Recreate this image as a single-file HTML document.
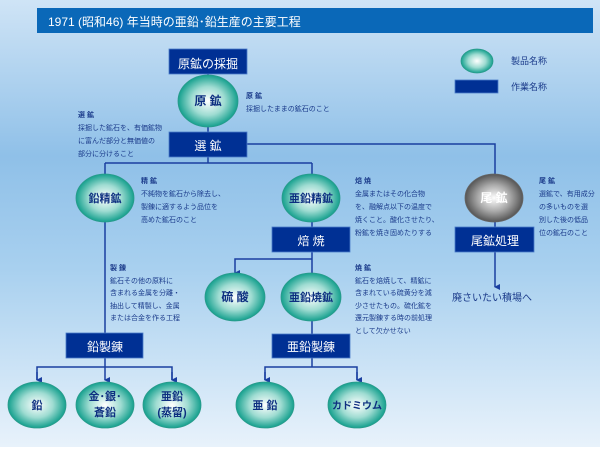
<!DOCTYPE html>
<html><head><meta charset="utf-8"><style>
html,body{margin:0;padding:0;}
body{width:600px;height:447px;overflow:hidden;font-family:"Liberation Sans","Noto Sans CJK JP",sans-serif;}
</style></head><body>
<svg width="600" height="447" viewBox="0 0 600 447" xmlns="http://www.w3.org/2000/svg" font-family="Liberation Sans, Noto Sans CJK JP, sans-serif">
<defs>
<linearGradient id="bg" x1="0" y1="0" x2="0" y2="1">
<stop offset="0" stop-color="#cfe4f6"/>
<stop offset="0.35" stop-color="#8fc0e8"/>
<stop offset="0.6" stop-color="#a8d0ef"/>
<stop offset="1" stop-color="#e8f2fb"/>
</linearGradient>
<radialGradient id="g" cx="0.5" cy="0.5" r="0.5">
<stop offset="0" stop-color="#ffffff"/>
<stop offset="0.55" stop-color="#9fdcd2"/>
<stop offset="1" stop-color="#15a08e"/>
</radialGradient>
<radialGradient id="gr" cx="0.5" cy="0.5" r="0.5">
<stop offset="0" stop-color="#ffffff"/>
<stop offset="0.55" stop-color="#aaaaaa"/>
<stop offset="1" stop-color="#555555"/>
</radialGradient>
<marker id="a" markerWidth="6" markerHeight="6" refX="3" refY="5" orient="auto" markerUnits="userSpaceOnUse">
<path d="M0,0 L6,0 L3,6 z" fill="#1a3fa0"/>
</marker>
</defs>
<rect width="600" height="447" fill="url(#bg)"/>
<rect x="37" y="8" width="556" height="25" fill="#0a68b8"/>
<text x="48" y="26" fill="#fff" font-size="12">1971 (昭和46) 年当時の亜鉛･鉛生産の主要工程</text>

<g stroke="#1a3fa0" stroke-width="1.5" fill="none">
<line x1="208" y1="74" x2="208" y2="132"/>
<polyline points="247,144 495,144 495,175"/>
<line x1="208" y1="157" x2="208" y2="163"/>
<line x1="105" y1="163" x2="312" y2="163"/>
<line x1="105" y1="163" x2="105" y2="333"/>
<line x1="312" y1="163" x2="312" y2="334"/>
<polyline points="312,259 235,259 235,273" marker-end="url(#a)"/>
<line x1="495" y1="220" x2="495" y2="227"/>
<line x1="495" y1="252" x2="495" y2="287" marker-end="url(#a)"/>
<line x1="105" y1="358" x2="105" y2="380" marker-end="url(#a)"/>
<polyline points="37,380 37,367 172,367 172,380"/>
<line x1="37" y1="372" x2="37" y2="380" marker-end="url(#a)"/>
<line x1="172" y1="372" x2="172" y2="380" marker-end="url(#a)"/>
<line x1="312" y1="358" x2="312" y2="367"/>
<polyline points="265,380 265,367 357,367 357,380"/>
<line x1="265" y1="372" x2="265" y2="380" marker-end="url(#a)"/>
<line x1="357" y1="372" x2="357" y2="380" marker-end="url(#a)"/>
</g>

<g fill="#003094" stroke="#4a7cc8" stroke-width="0.8">
<rect x="169" y="49" width="78" height="25"/>
<rect x="169" y="132" width="78" height="25"/>
<rect x="272" y="227" width="78" height="25"/>
<rect x="455" y="227" width="79" height="25"/>
<rect x="66" y="333" width="77" height="25"/>
<rect x="272" y="334" width="78" height="24"/>
<rect x="455" y="80" width="43" height="13"/>
</g>
<g fill="#fff" font-size="12" text-anchor="middle">
<text x="208" y="68">原鉱の採掘</text>
<text x="208" y="150">選 鉱</text>
<text x="311" y="245">焙 焼</text>
<text x="495" y="245">尾鉱処理</text>
<text x="105" y="351">鉛製錬</text>
<text x="311" y="351">亜鉛製錬</text>
</g>

<g stroke="#2a9a8a" stroke-width="0.8">
<ellipse cx="208" cy="101" rx="30" ry="26" fill="url(#g)"/>
<ellipse cx="105" cy="198" rx="29" ry="24" fill="url(#g)"/>
<ellipse cx="311" cy="198" rx="29" ry="24" fill="url(#g)"/>
<ellipse cx="494" cy="198" rx="29" ry="24" fill="url(#gr)" stroke="#666"/>
<ellipse cx="235" cy="297" rx="30" ry="24" fill="url(#g)"/>
<ellipse cx="311" cy="297" rx="30" ry="24" fill="url(#g)"/>
<ellipse cx="37" cy="405" rx="29" ry="23" fill="url(#g)"/>
<ellipse cx="105" cy="405" rx="29" ry="23" fill="url(#g)"/>
<ellipse cx="172" cy="405" rx="29" ry="23" fill="url(#g)"/>
<ellipse cx="265" cy="405" rx="29" ry="23" fill="url(#g)"/>
<ellipse cx="357" cy="405" rx="29" ry="23" fill="url(#g)"/>
<ellipse cx="477" cy="61" rx="16" ry="12" fill="url(#g)"/>
</g>
<g fill="#0d2f80" font-size="12" text-anchor="middle" font-weight="bold">
<text x="208" y="105">原 鉱</text>
<text x="105" y="202" font-size="11">鉛精鉱</text>
<text x="311" y="202" font-size="11">亜鉛精鉱</text>
<text x="494" y="202" fill="#fff">尾 鉱</text>
<text x="235" y="301">硫 酸</text>
<text x="311" y="301" font-size="11">亜鉛焼鉱</text>
<text x="37" y="409" font-size="11">鉛</text>
<text x="105" y="400" font-size="11">金･銀･</text>
<text x="105" y="416" font-size="11">蒼鉛</text>
<text x="172" y="400" font-size="11">亜鉛</text>
<text x="172" y="416" font-size="11">(蒸留)</text>
<text x="265" y="409" font-size="11">亜 鉛</text>
<text x="357" y="409" font-size="10">カドミウム</text>
</g>

<g fill="#1a3a8a" font-size="7">
<text x="511" y="64" font-size="9">製品名称</text>
<text x="511" y="90" font-size="9">作業名称</text>
<text x="246" y="98" font-weight="bold">原 鉱</text>
<text x="246" y="111">採掘したままの鉱石のこと</text>
<text x="78" y="117" font-weight="bold">選 鉱</text>
<text x="78" y="130">採掘した鉱石を、有価鉱物</text>
<text x="78" y="143">に富んだ部分と無価値の</text>
<text x="78" y="156">部分に分けること</text>
<text x="141" y="183" font-weight="bold">精 鉱</text>
<text x="141" y="196">不純物を鉱石から除去し、</text>
<text x="141" y="209">製錬に適するよう品位を</text>
<text x="141" y="222">高めた鉱石のこと</text>
<text x="355" y="183" font-weight="bold">焙 焼</text>
<text x="355" y="196">金属またはその化合物</text>
<text x="355" y="209">を、融解点以下の温度で</text>
<text x="355" y="222">焼くこと。酸化させたり、</text>
<text x="355" y="235">粉鉱を焼き固めたりする</text>
<text x="539" y="183" font-weight="bold">尾 鉱</text>
<text x="539" y="196">選鉱で、有用成分</text>
<text x="539" y="209">の多いものを選</text>
<text x="539" y="222">別した後の低品</text>
<text x="539" y="235">位の鉱石のこと</text>
<text x="110" y="270" font-weight="bold">製 錬</text>
<text x="110" y="283">鉱石その他の原料に</text>
<text x="110" y="295">含まれる金属を分離・</text>
<text x="110" y="308">抽出して精製し、金属</text>
<text x="110" y="320">または合金を作る工程</text>
<text x="355" y="270" font-weight="bold">焼 鉱</text>
<text x="355" y="283">鉱石を焙焼して、精鉱に</text>
<text x="355" y="295">含まれている硫黄分を減</text>
<text x="355" y="308">少させたもの。硫化鉱を</text>
<text x="355" y="320">還元製錬する時の前処理</text>
<text x="355" y="333">として欠かせない</text>
<text x="452" y="301" font-size="10">廃さいたい積場へ</text>
</g>
</svg>
</body></html>
